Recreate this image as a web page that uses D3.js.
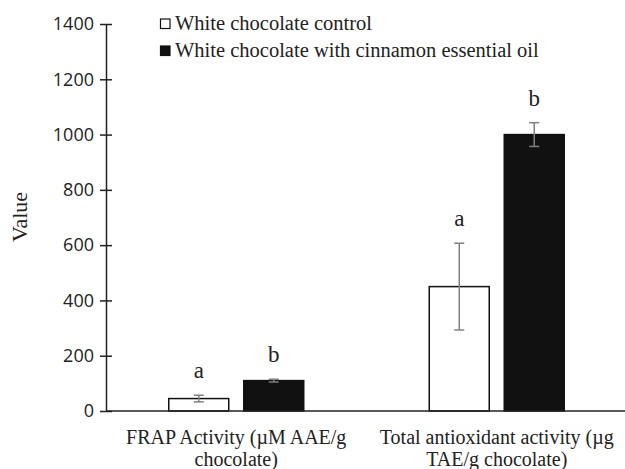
<!DOCTYPE html>
<html>
<head>
<meta charset="utf-8">
<script src="https://cdn.jsdelivr.net/npm/d3@7"></script>
<style>
  body { margin: 0; background: #fff; }
  svg { display: block; }
</style>
</head>
<body>
<div id="chart"></div>
<script>
let categories = [
  ["FRAP Activity (\u00b5M AAE/g", "chocolate)"],
  ["Total antioxidant activity (\u00b5g", "TAE/g chocolate)"]
];
let seriesNames = ["White chocolate control", "White chocolate with cinnamon essential oil"];
let controlValues = [45, 450];
let cinnamonValues = [110, 1000];
let controlErrors = [12, 157];
let cinnamonErrors = [5, 43];
let controlLetters = ["a", "a"];
let cinnamonLetters = ["b", "b"];
let yTicks = [0, 200, 400, 600, 800, 1000, 1200, 1400];

let width = 625, height = 469;
let svg = d3.select("#chart").append("svg")
  .attr("width", width)
  .attr("height", height);

let x0 = d3.scaleBand().domain([0, 1]).range([106, 627]).padding(0);
let x1 = d3.scaleBand().domain([0, 1]).range([0, x0.bandwidth()])
  .paddingInner(0.2).paddingOuter(0.837);
let y = d3.scaleLinear().domain([0, 1400]).range([411, 24]);

// y axis
let yAxis = svg.append("g")
  .attr("transform", "translate(106,0)")
  .call(d3.axisLeft(y).tickValues(yTicks).tickFormat(d3.format("d"))
    .tickSizeInner(6).tickSizeOuter(0).tickPadding(6));
yAxis.select(".domain").attr("stroke", "#222").attr("stroke-width", 1.5);
yAxis.selectAll(".tick line").attr("stroke", "#222").attr("stroke-width", 1.5).attr("x2", 6).attr("x1", -6);
yAxis.selectAll(".tick text")
  .attr("font-family", "Open Sans, sans-serif")
  .attr("font-size", 18)
  .attr("fill", "#222");

svg.append("text")
  .attr("transform", "translate(27,217) rotate(-90)")
  .attr("text-anchor", "middle")
  .attr("font-family", "Liberation Serif, serif")
  .attr("font-size", 22)
  .attr("fill", "#222")
  .text("Value");

let series = [
  { values: controlValues, errors: controlErrors, letters: controlLetters, fill: "#fff" },
  { values: cinnamonValues, errors: cinnamonErrors, letters: cinnamonLetters, fill: "#111" }
];

series.forEach((s, si) => {
  let g = svg.append("g");
  let bx = i => x0(i) + x1(si);
  let cx = i => bx(i) + x1.bandwidth() / 2;

  g.selectAll("rect").data(s.values).enter().append("rect")
    .attr("x", (d, i) => bx(i))
    .attr("y", d => y(d))
    .attr("width", x1.bandwidth())
    .attr("height", d => y(0) - y(d))
    .attr("fill", s.fill)
    .attr("stroke", "#111")
    .attr("stroke-width", 1.5);

  s.values.forEach((v, i) => {
    let e = s.errors[i];
    let eg = g.append("g").attr("stroke", "#808080").attr("stroke-width", 1.5);
    eg.append("line").attr("x1", cx(i)).attr("x2", cx(i)).attr("y1", y(v + e)).attr("y2", y(v - e));
    eg.append("line").attr("x1", cx(i) - 5).attr("x2", cx(i) + 5).attr("y1", y(v + e)).attr("y2", y(v + e));
    eg.append("line").attr("x1", cx(i) - 5).attr("x2", cx(i) + 5).attr("y1", y(v - e)).attr("y2", y(v - e));

    g.append("text")
      .attr("x", cx(i))
      .attr("y", y(v + e) - 17)
      .attr("text-anchor", "middle")
      .attr("font-family", "Liberation Serif, serif")
      .attr("font-size", 23)
      .attr("fill", "#222")
      .text(s.letters[i]);
  });
});

// x axis line
svg.append("line")
  .attr("x1", 106).attr("x2", 627)
  .attr("y1", y(0)).attr("y2", y(0))
  .attr("stroke", "#222").attr("stroke-width", 1.5);

// category labels
categories.forEach((lines, i) => {
  let t = svg.append("text")
    .attr("text-anchor", "middle")
    .attr("font-family", "Liberation Serif, serif")
    .attr("font-size", 20)
    .attr("fill", "#222");
  lines.forEach((ln, li) => {
    t.append("tspan")
      .attr("x", x0(i) + x0.bandwidth() / 2)
      .attr("y", 444 + li * 22)
      .text(ln);
  });
});

// legend
let legend = svg.append("g");
seriesNames.forEach((name, i) => {
  let ly = 19 + i * 27;
  legend.append("rect")
    .attr("x", 160.5).attr("y", ly)
    .attr("width", 9.5).attr("height", 9.5)
    .attr("fill", series[i].fill)
    .attr("stroke", "#111").attr("stroke-width", 1.2);
  legend.append("text")
    .attr("x", 175).attr("y", ly + 11)
    .attr("font-family", "Liberation Serif, serif")
    .attr("font-size", 20.5)
    .attr("fill", "#222")
    .text(name);
});
</script>
</body>
</html>
